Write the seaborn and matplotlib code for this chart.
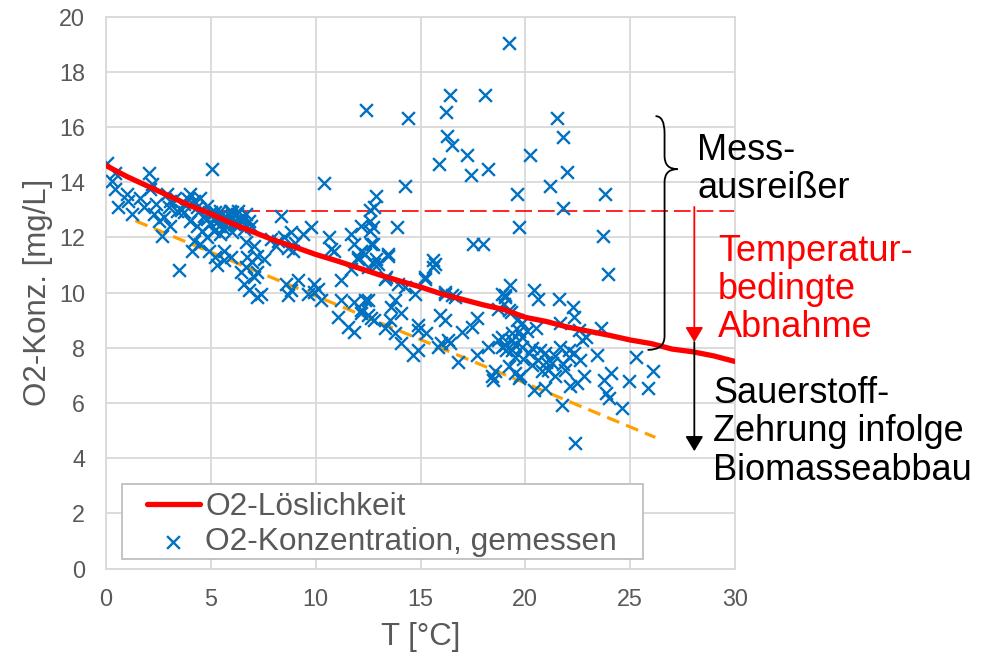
import matplotlib
matplotlib.use("Agg")
import matplotlib.pyplot as plt
from matplotlib.path import Path
from matplotlib.patches import PathPatch, FancyArrowPatch, Rectangle
import pandas as pd
import seaborn as sns

temp_measured = [
    0.03, 0.43, 0.27, 0.43, 2.03, 5.06, 0.59, 1.07, 1.23, 0.99, 1.63, 1.79, 2.11, 2.27, 2.51,
    2.19, 2.75, 2.67, 2.91, 3.07, 3.31, 3.39, 3.7, 3.07, 3.47, 4.02, 4.18, 4.35, 4.5, 4.02,
    4.35, 4.66, 4.83, 4.98, 5.22, 5.46, 5.7, 5.94, 6.1, 6.26, 6.42, 4.58, 4.83, 4.5, 4.18,
    5.14, 5.46, 4.9, 4.11, 5.22, 5.62, 5.3, 6.66, 7.06, 7.22, 6.74, 3.7,
    5.5, 5.8, 6.0, 6.2, 6.4, 6.6, 6.8, 5.6, 6.0, 6.3, 6.9, 5.3, 5.9,
    5.2, 5.4, 5.7, 6.1, 6.5, 6.7, 5.0, 4.8, 4.4, 3.9, 3.6, 3.0, 2.4,
    8.34, 9.77, 9.38, 8.82, 8.5, 8.18, 7.86, 8.1, 10.65, 11.69, 10.89, 12.17, 12.01, 12.17, 12.57,
    12.8, 5.94, 5.62, 6.66, 6.42, 6.98, 7.22, 7.54, 7.06, 6.58, 6.82, 7.38, 7.22, 8.58, 8.82,
    9.14, 8.66, 9.62, 9.93, 10.1, 9.93, 10.25, 11.21, 11.85, 12.33, 12.17, 12.49, 11.05, 11.53, 11.85,
    12.8, 12.49, 12.89, 11.85, 12.57, 8.7, 9.0, 8.9,
    12.38, 14.39, 12.9, 12.6, 14.28, 10.38, 13.9, 12.73, 10.73, 12.01, 12.73, 13.45, 12.97, 11.69, 11.21,
    13.37, 13.93, 15.2, 15.6, 16.16, 16.64, 18.88, 19.28,
    19.2, 16.4, 16.2, 18.1, 16.28, 16.5, 17.2, 15.9, 17.4, 18.2, 20.2, 19.6, 21.5, 21.8, 22.0,
    21.2, 21.8, 23.8,
    17.5, 18.0, 12.65, 13.45, 12.8, 15.6, 15.68, 12.33, 15.2, 13.3, 14.25, 14.72, 16.16, 16.48, 19.04,
    18.72, 12.49, 13.77, 13.6, 12.17, 12.65, 13.53, 14.09, 15.92, 16.16, 17.68, 17.44, 16.96, 13.29, 13.77,
    14.89, 14.89, 15.28, 16.0, 16.4, 14.09, 14.89, 14.65, 17.68, 18.24, 16.8, 18.72, 19.04, 19.36, 18.56,
    18.48, 19.52, 16.32, 15.84, 19.2,
    19.7, 23.7, 23.94, 20.4, 20.6, 21.6, 22.26, 22.3, 19.04, 21.67, 22.55, 23.6, 20.5, 19.84, 22.87,
    25.27, 26.07, 25.83, 24.95, 24.07, 23.75, 23.83, 24.0, 24.63, 23.43, 22.39, 21.75, 20.4, 20.95, 22.8,
    22.47, 22.15, 21.43, 21.1, 19.68, 19.2, 18.9,
    19.36, 19.84, 20.16, 20.6, 20.95, 21.27, 21.67, 22.07, 22.3, 22.63, 22.7, 21.9, 20.8, 20.3, 19.5,
    19.1, 18.9, 19.36, 19.84, 19.0, 19.3, 19.6, 18.4, 19.76,
    19.5, 19.9, 20.3, 20.7, 21.0, 21.4, 21.8, 22.1, 19.7, 20.1,
]
o2_measured = [
    14.7, 14.34, 14.04, 13.74, 14.34, 14.46, 13.08, 13.32, 12.84, 13.56, 13.44, 13.08, 13.74, 12.84, 12.6,
    13.92, 12.72, 12.06, 13.56, 13.32, 13.44, 12.96, 13.2, 12.42, 10.8, 13.56, 13.32, 13.08, 13.44, 12.6,
    12.42, 12.78, 13.14, 12.48, 12.72, 12.96, 12.6, 12.72, 12.48, 12.84, 12.6, 12.24, 12.0, 11.76, 11.88,
    12.24, 12.12, 11.52, 11.52, 11.28, 11.16, 10.98, 11.82, 11.7, 11.34, 11.28, 12.9,
    12.8, 12.55, 12.9, 12.45, 12.7, 12.3, 12.6, 12.35, 12.2, 12.95, 12.4, 12.55, 12.95,
    12.9, 12.4, 12.75, 12.6, 12.55, 12.85, 12.9, 12.65, 12.9, 13.4, 13.0, 13.1, 13.2,
    12.78, 12.36, 12.12, 12.18, 12.0, 11.88, 11.94, 11.7, 12.0, 12.12, 11.52, 11.52, 11.22, 12.42, 12.6,
    13.08, 11.28, 11.52, 10.92, 10.74, 11.1, 10.74, 11.22, 10.56, 10.32, 10.08, 9.96, 9.84, 10.32, 10.08,
    10.44, 9.9, 9.96, 10.32, 10.14, 10.02, 9.72, 9.72, 9.66, 9.72, 9.36, 9.18, 9.12, 8.76, 8.58,
    9.0, 10.92, 11.22, 11.76, 12.24, 11.6, 11.8, 11.5,
    16.63, 16.33, 13.48, 12.99, 13.86, 13.96, 12.38, 12.38, 11.58, 11.28, 11.76, 11.34, 11.04, 10.86, 10.44,
    10.56, 10.32, 10.56, 10.92, 9.96, 9.84, 9.96, 10.26,
    19.04, 17.15, 16.55, 17.15, 15.67, 15.34, 14.97, 14.65, 14.26, 14.46, 14.97, 13.56, 16.33, 15.64, 14.37,
    13.86, 13.06, 13.56,
    11.76, 11.76, 11.76, 11.4, 11.04, 11.16, 11.04, 11.4, 10.5, 10.5, 10.2, 9.96, 10.02, 9.9, 9.84,
    9.42, 9.72, 9.72, 9.48, 9.24, 9.06, 9.0, 9.24, 9.18, 9.0, 9.06, 8.76, 8.58, 8.7, 8.52,
    8.82, 8.64, 8.52, 8.16, 8.16, 8.16, 7.92, 7.74, 7.74, 8.04, 7.5, 8.28, 8.1, 7.92, 7.14,
    6.84, 7.08, 8.28, 8.04, 9.36,
    12.36, 12.06, 10.68, 10.08, 9.78, 9.78, 9.48, 9.12, 9.9, 8.88, 8.64, 8.7, 8.7, 8.88, 8.4,
    7.68, 7.14, 6.54, 6.78, 7.1, 6.84, 6.36, 6.18, 5.82, 7.74, 4.55, 5.94, 6.48, 6.54, 6.96,
    6.72, 6.6, 6.96, 7.2, 6.9, 7.32, 8.04,
    8.28, 8.04, 7.8, 7.56, 7.8, 7.44, 8.04, 7.68, 7.8, 7.56, 8.28, 7.2, 7.14, 7.38, 7.68,
    7.92, 8.4, 8.52, 8.4, 9.6, 9.3, 9.0, 6.96, 6.96,
    8.1, 7.6, 8.0, 7.9, 7.5, 7.7, 7.4, 7.9, 8.6, 8.6,
]

# O2 solubility curve
temp_solubility = list(range(0, 31))
o2_solubility = [
    14.6, 14.2, 13.85, 13.5, 13.15, 12.85, 12.5, 12.2, 11.9, 11.65, 11.38, 11.15, 10.9, 10.65, 10.42,
    10.2, 9.95, 9.75, 9.55, 9.38, 9.1, 8.95, 8.75, 8.6, 8.45, 8.28, 8.15, 7.95, 7.85, 7.7, 7.5,
]

# guide lines
plateau_x = [4.4, 30]
plateau_y = [12.95, 12.95]
lower_x = [1.4, 26.2]
lower_y = [12.6, 4.75]

measured = pd.DataFrame({"T": temp_measured, "O2": o2_measured})
solubility = pd.DataFrame({"T": temp_solubility, "O2": o2_solubility})

sns.set_theme(style="whitegrid")
plt.rcParams["font.family"] = ["Liberation Sans", "DejaVu Sans"]

GRAY = "#595959"
GRID = "#D9D9D9"

fig = plt.figure(figsize=(9.82, 6.56), dpi=100)
ax = fig.add_axes([106 / 982, 87.5 / 656, 629 / 982, 552 / 656])

ax.plot(plateau_x, plateau_y, color="#FF0000", linewidth=1.2, dashes=(10, 3.6), zorder=2)
ax.plot(lower_x, lower_y, color="#FFA000", linewidth=2.3, dashes=(4.1, 2.3), zorder=2)

sns.scatterplot(
    ax=ax,
    data=measured,
    x="T",
    y="O2",
    marker="x",
    color="#0070C0",
    s=85,
    linewidth=1.7,
    label="O2-Konzentration, gemessen",
    zorder=3,
)
sns.lineplot(
    ax=ax,
    data=solubility,
    x="T",
    y="O2",
    color="#FF0000",
    linewidth=3.8,
    label="O2-Löslichkeit",
    zorder=4,
)

ax.set_xlim(0, 30)
ax.set_ylim(0, 20)
ax.set_xticks(range(0, 31, 5))
ax.set_yticks(range(0, 21, 2))
ax.grid(True, color=GRID, linewidth=1.3)
for spine in ax.spines.values():
    spine.set_color(GRID)
    spine.set_linewidth(1.3)
ax.tick_params(axis="both", length=0, labelsize=16.8, labelcolor=GRAY)
ax.tick_params(axis="x", pad=14)
ax.tick_params(axis="y", pad=15)
ax.set_xlabel("T [°C]", fontsize=22.5, color=GRAY, labelpad=8)
ax.set_ylabel("O2-Konz. [mg/L]", fontsize=22.5, color=GRAY, labelpad=4)

# legend frame drawn separately so the padding matches the original
ax.add_patch(Rectangle((0.0254, 0.0167), 0.8283, 0.136, transform=ax.transAxes,
                       facecolor="white", edgecolor="#BFBFBF", linewidth=1.3, zorder=4.5))
handles, labels = ax.get_legend_handles_labels()
order = [labels.index("O2-Löslichkeit"), labels.index("O2-Konzentration, gemessen")]
leg = ax.legend(
    [handles[i] for i in order],
    [labels[i] for i in order],
    loc="upper left",
    bbox_to_anchor=(0.0649, 0.1385),
    borderaxespad=0,
    borderpad=0,
    fontsize=22.8,
    frameon=False,
    labelspacing=0.17,
    handlelength=1.68,
    handletextpad=0.16,
    labelcolor=GRAY,
)
leg.set_zorder(6)

# curly brace for the outliers
brace = Path(
    [
        (26.21, 16.39), (26.64, 16.39), (26.64, 15.77),
        (26.64, 14.94),
        (26.64, 14.47), (27.26, 14.47),
        (26.64, 14.47), (26.64, 14.0),
        (26.64, 8.42),
        (26.64, 7.92), (25.83, 7.92),
    ],
    [
        Path.MOVETO, Path.CURVE3, Path.CURVE3,
        Path.LINETO,
        Path.CURVE3, Path.CURVE3,
        Path.CURVE3, Path.CURVE3,
        Path.LINETO,
        Path.CURVE3, Path.CURVE3,
    ],
)
ax.add_patch(PathPatch(brace, facecolor="none", edgecolor="black", linewidth=1.3, clip_on=False, zorder=5))

arrow_style = "-|>,head_length=0.45,head_width=0.27"
red_arrow = FancyArrowPatch(
    (28.06, 13.1), (28.06, 8.2), arrowstyle=arrow_style, mutation_scale=20,
    color="#FF0000", linewidth=1.3, clip_on=False, shrinkA=0, shrinkB=0, zorder=5,
)
black_arrow = FancyArrowPatch(
    (28.06, 8.2), (28.06, 4.25), arrowstyle=arrow_style, mutation_scale=20,
    color="black", linewidth=1.3, clip_on=False, shrinkA=0, shrinkB=0, zorder=5,
)
ax.add_patch(red_arrow)
ax.add_patch(black_arrow)

ax.text(28.2, 15.78, "Mess-\nausreißer", fontsize=26, color="black", va="top", ha="left",
        linespacing=1.12, clip_on=False)
ax.text(29.2, 12.12, "Temperatur-\nbedingte\nAbnahme", fontsize=26, color="#FF0000", va="top",
        ha="left", linespacing=1.12, clip_on=False)
ax.text(28.95, 6.97, "Sauerstoff-\nZehrung infolge\nBiomasseabbau", fontsize=26, color="black",
        va="top", ha="left", linespacing=1.12, clip_on=False)

fig.savefig("out.png", dpi=100)
plt.close(fig)
